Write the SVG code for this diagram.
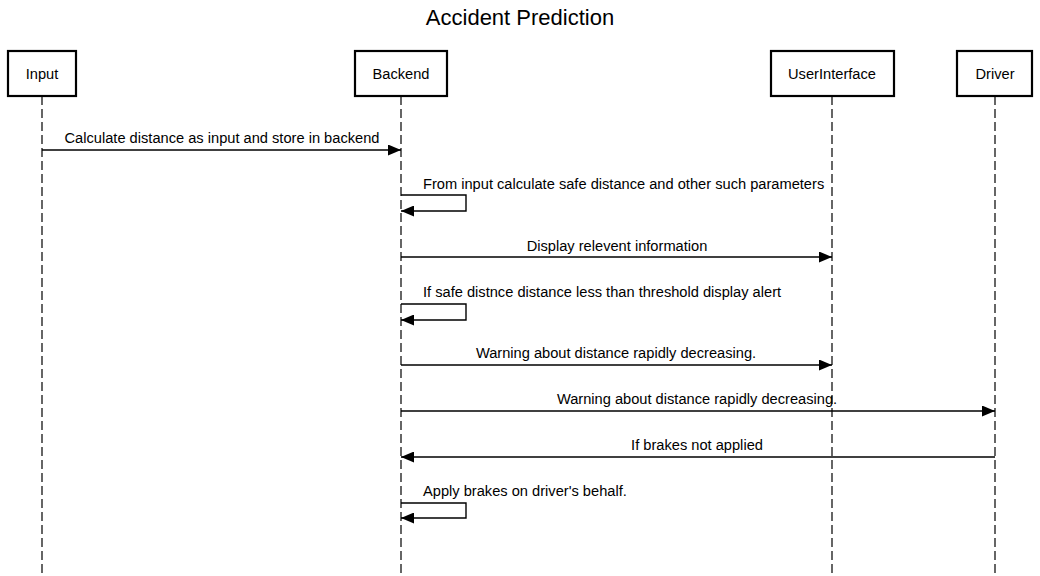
<svg xmlns="http://www.w3.org/2000/svg" width="1040" height="576" viewBox="0 0 1040 576">
<style>
.box{fill:#fff;stroke:#000;stroke-width:2.2}
.life{stroke:#000;stroke-width:1.2;stroke-dasharray:9 4;fill:none}
.msg{stroke:#000;stroke-width:1.4;fill:none}
text{font-family:"Liberation Sans",Arial,sans-serif;font-size:14.65px;fill:#000}
.c{text-anchor:middle}
.title{font-size:22px}
</style>
<defs>
<marker id="ah" viewBox="0 0 13 11" refX="13" refY="5.5" markerWidth="13" markerHeight="11" markerUnits="userSpaceOnUse" orient="auto">
<path d="M0,0 L13,5.5 L0,11 Z" fill="#000"/>
</marker>
</defs>
<rect width="1040" height="576" fill="#fff"/>
<text class="c title" x="520" y="25">Accident Prediction</text>
<g id="lifelines">
<line class="life" x1="42" y1="96" x2="42" y2="576"/>
<line class="life" x1="401" y1="96" x2="401" y2="576"/>
<line class="life" x1="832" y1="96" x2="832" y2="576"/>
<line class="life" x1="995" y1="96" x2="995" y2="576"/>
</g>
<g id="node-input"><rect class="box" x="8" y="51" width="68" height="45"/><text class="c" x="42" y="79">Input</text></g>
<g id="node-backend"><rect class="box" x="355" y="51" width="92" height="45"/><text class="c" x="401" y="79">Backend</text></g>
<g id="node-ui"><rect class="box" x="771" y="51" width="123" height="45"/><text class="c" x="832" y="79">UserInterface</text></g>
<g id="node-driver"><rect class="box" x="957" y="51" width="75" height="45"/><text class="c" x="995" y="79">Driver</text></g>
<g id="connectors">
<line class="msg" x1="42" y1="150" x2="401" y2="150" marker-end="url(#ah)"/>
<text class="c" x="222" y="143">Calculate distance as input and store in backend</text>
<polyline class="msg" points="401,195 466,195 466,211 401,211" marker-end="url(#ah)"/>
<text x="423" y="189">From input calculate safe distance and other such parameters</text>
<line class="msg" x1="401" y1="257" x2="832" y2="257" marker-end="url(#ah)"/>
<text class="c" x="617" y="251">Display relevent information</text>
<polyline class="msg" points="401,304 466,304 466,320 401,320" marker-end="url(#ah)"/>
<text x="423" y="297">If safe distnce distance less than threshold display alert</text>
<line class="msg" x1="401" y1="365" x2="832" y2="365" marker-end="url(#ah)"/>
<text class="c" x="616" y="358">Warning about distance rapidly decreasing.</text>
<line class="msg" x1="401" y1="411" x2="995" y2="411" marker-end="url(#ah)"/>
<text class="c" x="697" y="404">Warning about distance rapidly decreasing.</text>
<line class="msg" x1="995" y1="457" x2="401" y2="457" marker-end="url(#ah)"/>
<text class="c" x="697" y="450">If brakes not applied</text>
<polyline class="msg" points="401,503 466,503 466,518 401,518" marker-end="url(#ah)"/>
<text x="423" y="496">Apply brakes on driver's behalf.</text>
</g>
</svg>
